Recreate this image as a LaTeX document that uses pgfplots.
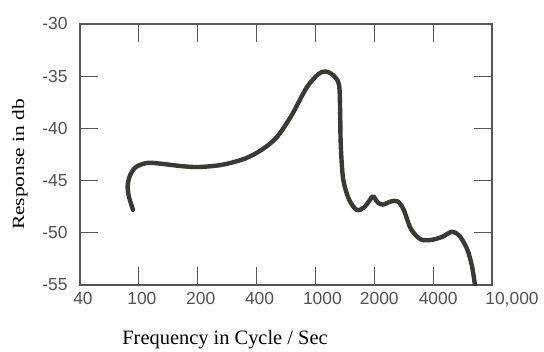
\documentclass[border=0pt]{standalone}
\usepackage{pgfplots}
\pgfplotsset{compat=1.18}
\usepackage{fontspec}
\setmainfont{Liberation Serif}
\newfontfamily\tickfont{Liberation Sans}
\definecolor{curve}{HTML}{3A3A34}
\definecolor{frame}{HTML}{555555}
\begin{document}
\begin{tikzpicture}
\begin{axis}[
  scale only axis,
  width=412bp, height=261bp,
  xmin=0, xmax=7, ymin=-55, ymax=-30,
  axis line style={frame, line width=1.2bp},
  xtick={0,1,2,3,4,5,6,7},
  xticklabels={40,100,200,400,\hspace*{8bp}1000,\hspace*{4bp}2000,\hspace*{4bp}4000,\hspace*{34bp}10{,}000},
  ytick={-55,-50,-45,-40,-35,-30},
  yticklabels={-55,-50,-45,-40,-35,-30},
  tick align=inside,
  major tick length=18bp,
  tick style={frame, line width=1.2bp},
  ticklabel style={font=\tickfont\fontsize{17.5}{18}\selectfont, text=black!68},
  xticklabel style={yshift=-4bp, xshift=3bp},
  yticklabel style={xshift=-9bp},
  xlabel={Frequency in Cycle / Sec},
  ylabel={\scalebox{1}[0.8]{Response in db}},
  xlabel style={font=\fontsize{20.5}{21}\selectfont, at={(axis description cs:0.352,-0.2107)}, anchor=center},
  ylabel style={font=\fontsize{21.5}{22}\selectfont, at={(axis description cs:-0.1456,0.4617)}, anchor=center},
]
\addplot[curve, line width=4.4bp, smooth, tension=0.5, line cap=round, line join=round] coordinates {
(0.90,-47.8)
(0.83,-46.5)
(0.81,-45.5)
(0.85,-44.5)
(0.95,-43.7)
(1.15,-43.3)
(1.40,-43.4)
(1.70,-43.6)
(2.00,-43.7)
(2.40,-43.5)
(2.80,-42.9)
(3.10,-42.0)
(3.35,-40.8)
(3.60,-38.7)
(3.85,-36.1)
(4.05,-34.8)
(4.18,-34.55)
(4.30,-34.9)
(4.40,-35.8)
(4.42,-38.5)
(4.43,-41.5)
(4.47,-44.8)
(4.57,-46.8)
(4.70,-47.8)
(4.82,-47.6)
(4.92,-46.9)
(4.98,-46.5)
(5.06,-47.1)
(5.15,-47.3)
(5.28,-47.0)
(5.40,-47.0)
(5.50,-47.8)
(5.62,-49.6)
(5.78,-50.6)
(5.95,-50.7)
(6.15,-50.4)
(6.32,-49.9)
(6.45,-50.3)
(6.58,-51.6)
(6.66,-53.2)
(6.71,-55.0)
};
\end{axis}
\pgfresetboundingbox
\path ([shift={(-80bp,-67bp)}]current axis.south west) rectangle ([shift={(52bp,24bp)}]current axis.north east);
\end{tikzpicture}
\end{document}
